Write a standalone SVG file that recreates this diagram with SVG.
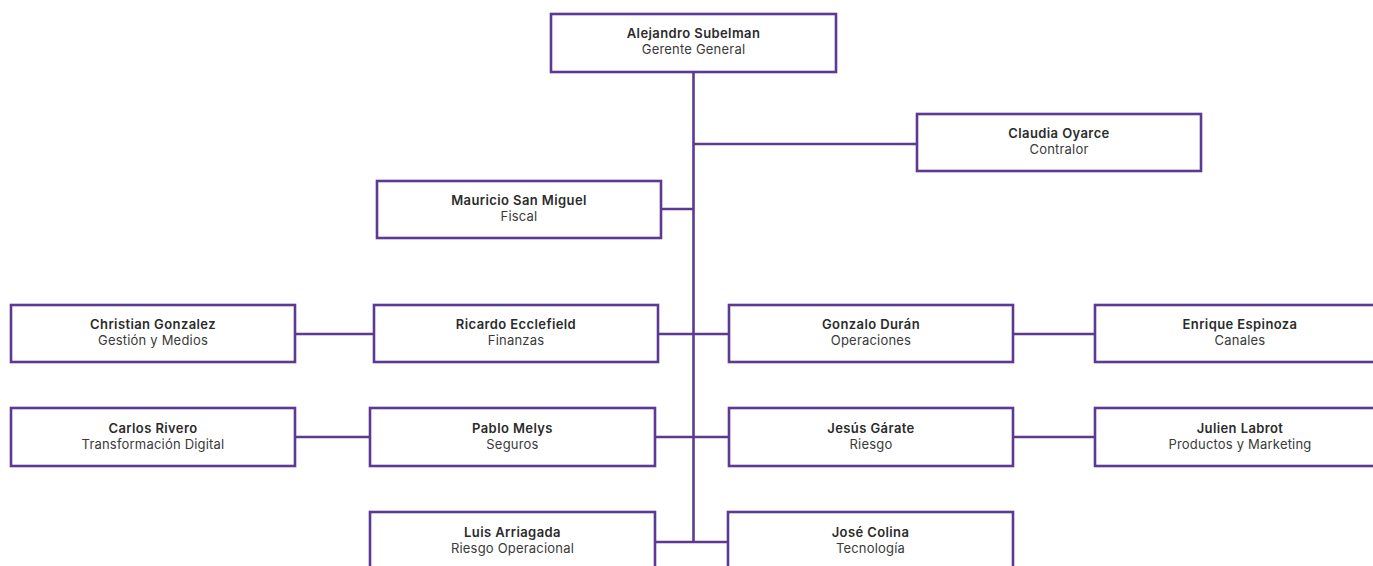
<svg xmlns="http://www.w3.org/2000/svg" width="1373" height="566" viewBox="0 0 1373 566">
<style>
.box{fill:#fff;stroke:#5b3a94;stroke-width:2.6}
.ln{stroke:#5b3a94;stroke-width:2.6;fill:none}
.n{font-family:Inter,"Noto Sans",sans-serif;font-size:13px;font-weight:600;fill:#2b2b2b;text-anchor:middle;letter-spacing:0.4px}
.r{font-family:Inter,"Noto Sans",sans-serif;font-size:13px;font-weight:400;fill:#3a3a3a;text-anchor:middle;letter-spacing:0.2px}
</style>
<rect width="1373" height="566" fill="#fff"/>
<g id="connectors">
<path class="ln" d="M693.5 72V543"/>
<path class="ln" d="M693.5 144H917"/>
<path class="ln" d="M661 209H693.5"/>
<path class="ln" d="M295 334H374M658 334H729M1013 334H1095"/>
<path class="ln" d="M295 437H370M655 437H729M1013 437H1095"/>
<path class="ln" d="M655 542H728"/>
</g>
<g id="alejandro"><rect class="box" x="551" y="14" width="285" height="58"/><text class="n" x="693.5" y="38">Alejandro Subelman</text><text class="r" x="693.5" y="54">Gerente General</text></g>
<g id="claudia"><rect class="box" x="917" y="114" width="284" height="57"/><text class="n" x="1059" y="138">Claudia Oyarce</text><text class="r" x="1059" y="154">Contralor</text></g>
<g id="mauricio"><rect class="box" x="377" y="181" width="284" height="57"/><text class="n" x="519" y="205">Mauricio San Miguel</text><text class="r" x="519" y="221">Fiscal</text></g>
<g id="christian"><rect class="box" x="11" y="305" width="284" height="57"/><text class="n" x="153" y="329">Christian Gonzalez</text><text class="r" x="153" y="345">Gestión y Medios</text></g>
<g id="ricardo"><rect class="box" x="374" y="305" width="284" height="57"/><text class="n" x="516" y="329">Ricardo Ecclefield</text><text class="r" x="516" y="345">Finanzas</text></g>
<g id="gonzalo"><rect class="box" x="729" y="305" width="284" height="57"/><text class="n" x="871" y="329">Gonzalo Durán</text><text class="r" x="871" y="345">Operaciones</text></g>
<g id="enrique"><rect class="box" x="1095" y="305" width="285" height="57"/><text class="n" x="1240" y="329">Enrique Espinoza</text><text class="r" x="1240" y="345">Canales</text></g>
<g id="carlos"><rect class="box" x="11" y="408" width="284" height="58"/><text class="n" x="153" y="433">Carlos Rivero</text><text class="r" x="153" y="449">Transformación Digital</text></g>
<g id="pablo"><rect class="box" x="370" y="408" width="285" height="58"/><text class="n" x="512.5" y="433">Pablo Melys</text><text class="r" x="512.5" y="449">Seguros</text></g>
<g id="jesus"><rect class="box" x="729" y="408" width="284" height="58"/><text class="n" x="871" y="433">Jesús Gárate</text><text class="r" x="871" y="449">Riesgo</text></g>
<g id="julien"><rect class="box" x="1095" y="408" width="285" height="58"/><text class="n" x="1240" y="433">Julien Labrot</text><text class="r" x="1240" y="449">Productos y Marketing</text></g>
<g id="luis"><rect class="box" x="370" y="512" width="285" height="60"/><text class="n" x="512.5" y="537">Luis Arriagada</text><text class="r" x="512.5" y="553">Riesgo Operacional</text></g>
<g id="jose"><rect class="box" x="728" y="512" width="285" height="60"/><text class="n" x="870.5" y="537">José Colina</text><text class="r" x="870.5" y="553">Tecnología</text></g>
</svg>
